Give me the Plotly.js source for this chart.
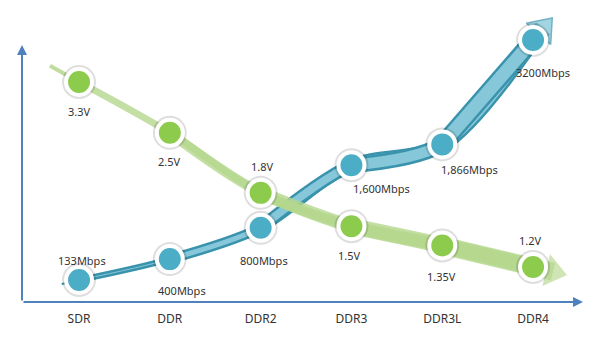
<!DOCTYPE html>
<html><head><meta charset="utf-8">
<script src="https://cdn.plot.ly/plotly-3.0.1.min.js"></script>
<style>html,body{margin:0;padding:0;background:#fff}#chart{width:600px;height:347px}</style>
</head><body><div id="chart"></div>
<script>
const categories = ['SDR','DDR','DDR2','DDR3','DDR3L','DDR4'];
const speedMbps = [133,400,800,1600,1866,3200];
const speedLabels = ['133Mbps','400Mbps','800Mbps','1,600Mbps','1,866Mbps','3200Mbps'];
const voltage = [3.3,2.5,1.8,1.5,1.35,1.2];
const voltageLabels = ['3.3V','2.5V','1.8V','1.5V','1.35V','1.2V'];

// styling (pixel offsets of labels relative to their marker, band widths per segment)
const speedLabelShift = [[3,20],[12,-31],[3,-33],[30,-23],[27,-25],[10,-33]];
const voltageLabelShift = [[0,-29],[0,-29],[2,26],[-2,-29],[-1,-31],[-3,27]];
const blueWidths = [6,10,13,16,18];
const greenWidths = [7,10,13,16,18];

const xs = categories.map((_, i) => i);
const n = xs.length;
function ext(ys, i0, i1, f){ return [xs[i1] + f*(xs[i1]-xs[i0]), ys[i1] + f*(ys[i1]-ys[i0])]; }
function extLog(ys, i0, i1, f){ return [xs[i1] + f*(xs[i1]-xs[i0]), ys[i1] * Math.pow(ys[i1]/ys[i0], f)]; }

const blueTail = ext(speedMbps, 1, 0, 0.19);
const blueHead = ext(speedMbps, n-2, n-1, 0.11);
const greenTail = extLog(voltage, 1, 0, 0.32);
const greenHead = extLog(voltage, n-2, n-1, 0.22);

const BLUE_DARK = '#3A93AC', BLUE_LIGHT = '#86C7D9', BLUE_MK = '#4BADC6';
const GREEN_BAND = '#B5D88E', GREEN_MK = '#8CCB4C';
const FONT = 'Noto Sans';

const traces = [];
traces.push({x:[blueTail[0], xs[0]], y:[blueTail[1], speedMbps[0]], mode:'lines', yaxis:'y',
   line:{color:BLUE_DARK, width:2}, hoverinfo:'skip'});
for (let k = 0; k < n-1; k++) {
  const sx = xs.slice(k), sy = speedMbps.slice(k);
  traces.push({x:sx, y:sy, mode:'lines', yaxis:'y', line:{shape:'spline', smoothing:0.9, color:BLUE_DARK, width:blueWidths[k]}, hoverinfo:'skip'});
  traces.push({x:sx, y:sy, mode:'lines', yaxis:'y', line:{shape:'spline', smoothing:0.9, color:BLUE_LIGHT, width:Math.max(blueWidths[k]-5,1)}, hoverinfo:'skip'});
}
// blue arrow head
traces.push({x:[xs[n-1], blueHead[0]], y:[speedMbps[n-1], blueHead[1]], mode:'lines', yaxis:'y',
   line:{color:BLUE_DARK, width:18}, hoverinfo:'skip'});
traces.push({x:[xs[n-1], blueHead[0]], y:[speedMbps[n-1], blueHead[1]], mode:'lines+markers', yaxis:'y', cliponaxis:false,
   line:{color:BLUE_LIGHT, width:13},
   marker:{symbol:'triangle-up', angleref:'previous', size:[0,28], color:'#7CC2D6', line:{color:BLUE_DARK, width:1.5}},
   hoverinfo:'skip'});

traces.push({x:[greenTail[0], xs[0]], y:[greenTail[1], voltage[0]], mode:'lines', yaxis:'y2',
   line:{color:GREEN_BAND, width:4}, opacity:0.85, hoverinfo:'skip'});
for (let k = 0; k < n-1; k++) {
  traces.push({x:xs.slice(k), y:voltage.slice(k), mode:'lines', yaxis:'y2', opacity:0.8,
    line:{shape:'spline', color:GREEN_BAND, width:greenWidths[k]}, hoverinfo:'skip'});
}
traces.push({x:[xs[n-1], greenHead[0]], y:[voltage[n-1], greenHead[1]], mode:'lines+markers', yaxis:'y2', cliponaxis:false,
   opacity:0.9, line:{color:GREEN_BAND, width:18},
   marker:{symbol:'triangle-up', angleref:'previous', size:[0,30], color:GREEN_BAND},
   hoverinfo:'skip'});

traces.push(
  {x:xs, y:speedMbps, mode:'markers', yaxis:'y', marker:{size:34, color:'rgba(0,0,0,0.13)'}, hoverinfo:'skip', cliponaxis:false},
  {x:xs, y:voltage, mode:'markers', yaxis:'y2', marker:{size:34, color:'rgba(0,0,0,0.13)'}, hoverinfo:'skip', cliponaxis:false},
  {x:xs, y:speedMbps, mode:'markers', yaxis:'y', cliponaxis:false,
   marker:{size:26, color:BLUE_MK, line:{color:'#fff', width:4}}},
  {x:xs, y:voltage, mode:'markers', yaxis:'y2', cliponaxis:false,
   marker:{size:26, color:GREEN_MK, line:{color:'#fff', width:4}}}
);

const labelAnns = [];
xs.forEach((x, i) => {
  labelAnns.push({x:x, y:speedMbps[i], xref:'x', yref:'y', text:speedLabels[i], showarrow:false,
    xshift:speedLabelShift[i][0], yshift:speedLabelShift[i][1], font:{family:FONT, size:11, color:'#333'}});
  labelAnns.push({x:x, y:Math.log10(voltage[i]), xref:'x', yref:'y2', text:voltageLabels[i], showarrow:false,
    xshift:voltageLabelShift[i][0], yshift:voltageLabelShift[i][1], font:{family:FONT, size:11, color:'#333'}});
});

const layout = {
  width:600, height:347, margin:{l:22, r:17, t:10, b:45},
  paper_bgcolor:'#fff', plot_bgcolor:'#fff', showlegend:false,
  xaxis:{range:[-0.628, 5.55], tickvals:xs, ticktext:categories, showgrid:false, zeroline:false,
         showline:false, ticks:'', ticklabelstandoff:8, tickfont:{family:FONT, size:12, color:'#333'}, fixedrange:true},
  yaxis:{range:[-148, 3583], visible:false, fixedrange:true},
  yaxis2:{type:'log', range:[-0.0039, 0.6895], overlaying:'y', visible:false, fixedrange:true},
  annotations:[
    {x:1, y:0, xref:'paper', yref:'paper', ax:-561, ay:0, showarrow:true, arrowhead:2, arrowsize:1,
     arrowwidth:2, arrowcolor:'#4F81BD', text:''},
    {x:0, y:0.88, xref:'paper', yref:'paper', ax:0, ay:257, showarrow:true, arrowhead:2, arrowsize:1,
     arrowwidth:2, arrowcolor:'#4F81BD', text:''}
  ].concat(labelAnns)
};
Plotly.newPlot('chart', traces, layout, {staticPlot:true, displayModeBar:false});
</script></body></html>
